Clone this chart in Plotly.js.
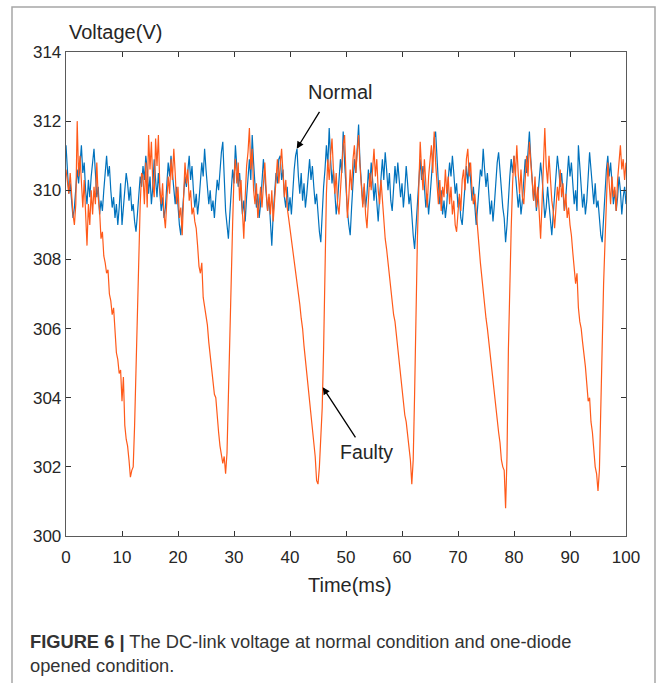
<!DOCTYPE html>
<html>
<head>
<meta charset="utf-8">
<script src="https://cdn.plot.ly/plotly-3.0.1.min.js"></script>
<style>
html,body{margin:0;padding:0;background:#fff;}
#chart{width:663px;height:683px;}
</style>
</head>
<body>
<div id="chart"></div>
<script>
// Time axis step (ms) for both series
const timeStep = 0.25;
const timeMs = [];
for (let i = 0; i <= 400; i++) timeMs.push(+(i * timeStep).toFixed(2));

// Normal condition DC-link voltage (V)
const normalV = [
311.3,310.6,309.9,310.2,309.6,309.2,309.5,310.1,310.6,310.2,310.9,311.3,310.5,310.8,310.0,309.6,310.3,309.8,310.4,310.9,
311.2,310.5,309.8,310.1,309.3,309.7,309.4,310.0,310.5,311.0,310.4,310.7,310.0,309.5,309.8,309.2,309.6,309.0,309.5,310.2,
309.0,309.4,310.0,310.5,310.2,309.7,310.1,309.4,309.6,309.1,308.8,309.3,309.9,310.4,310.1,310.7,310.3,311.0,310.6,309.9,
310.4,309.6,310.1,310.9,310.3,309.8,310.5,310.0,309.4,309.8,309.2,309.5,310.2,310.8,310.4,311.0,310.5,310.0,309.6,310.1,
309.5,309.0,308.7,309.3,309.9,310.4,310.1,310.6,311.0,310.3,310.7,310.0,309.5,309.9,309.3,309.7,310.2,310.8,310.4,311.2,
310.6,310.1,309.6,310.0,309.4,309.7,309.2,309.8,310.3,310.0,310.7,311.1,311.4,310.5,309.4,309.0,308.6,309.3,310.0,310.6,
310.2,311.3,310.7,310.1,310.5,309.8,309.3,309.7,309.1,309.8,310.4,310.9,310.3,311.6,310.8,310.2,309.5,309.9,309.2,309.6,
310.3,310.9,310.4,310.0,309.4,309.8,309.0,308.4,309.3,309.9,310.5,310.2,310.9,311.0,310.3,310.6,309.8,309.5,310.1,309.4,
309.8,309.3,310.0,310.6,311.0,311.2,310.4,309.9,310.5,309.7,310.2,309.5,309.9,310.4,310.9,310.3,310.7,310.1,309.6,309.9,
309.2,308.8,308.5,309.4,310.1,310.6,311.3,310.7,311.8,310.9,310.2,310.6,309.8,309.3,309.7,310.4,310.9,310.5,311.7,310.8,
310.0,309.4,309.0,308.7,309.5,310.3,310.9,310.5,311.4,311.9,310.8,310.2,309.6,310.1,309.5,309.9,310.6,310.1,310.8,310.3,
309.7,310.2,309.6,309.1,309.8,310.4,310.9,310.3,311.1,310.6,310.0,310.5,309.7,309.4,310.1,310.7,310.2,310.8,310.3,309.8,
310.2,309.5,310.0,310.7,310.2,309.6,309.9,309.2,308.7,308.3,309.0,309.8,310.4,310.9,310.3,310.7,310.1,309.5,309.9,309.3,
309.8,310.4,310.9,311.5,311.7,310.8,310.2,309.6,310.0,309.3,309.7,309.2,309.6,310.3,310.8,310.4,311.0,310.5,309.9,310.2,
309.5,309.8,309.2,309.0,309.6,310.2,310.7,310.2,310.8,310.3,309.7,310.1,309.4,309.0,309.5,310.1,310.6,310.4,311.2,310.6,
310.1,310.5,309.8,309.3,309.7,309.1,309.6,310.3,310.8,311.1,310.5,310.0,309.5,309.2,308.5,309.0,309.8,310.4,310.9,310.5,
311.0,310.4,310.0,309.5,309.9,309.3,309.7,310.4,310.9,310.5,311.2,311.7,310.9,310.2,309.7,310.1,309.4,309.8,310.3,310.8,
310.4,309.7,309.2,309.5,310.1,309.6,309.1,308.7,309.3,309.8,310.4,311.0,310.6,310.1,310.5,309.9,309.4,309.8,310.5,311.0,
310.4,310.8,310.2,309.6,310.0,309.4,311.3,310.6,310.0,309.5,309.9,309.3,309.7,310.4,311.1,310.6,310.0,309.6,310.2,309.5,
309.7,309.1,308.7,308.5,309.3,310.0,310.6,311.0,310.4,310.8,310.2,309.6,310.0,309.4,309.8,310.4,310.0,309.3,309.8,310.1,309.6
];

// One-diode opened (faulty) DC-link voltage (V)
const faultyV = [
310.6,310.2,309.9,310.5,309.7,309.3,309.0,309.6,312.0,310.4,311.0,310.1,309.5,310.3,309.2,308.4,309.6,309.0,310.0,309.3,
310.1,309.6,310.8,309.8,309.4,308.6,308.8,308.1,307.9,307.6,307.7,307.0,306.8,306.4,306.6,305.9,305.3,305.1,304.7,304.8,
303.9,304.6,303.2,302.8,302.6,302.2,301.7,301.9,302.0,303.2,305.0,306.9,308.5,309.6,310.5,310.4,309.6,310.8,309.5,311.6,
310.6,311.4,310.2,309.8,311.5,310.7,311.6,310.1,309.6,310.2,309.3,308.9,309.7,310.4,309.9,310.9,310.3,311.2,310.5,309.6,
310.1,309.2,309.5,308.7,309.8,310.8,310.2,310.6,309.7,310.0,309.3,309.5,309.1,308.9,308.4,307.8,307.6,307.9,306.9,306.6,
306.3,306.1,305.6,305.2,305.0,304.6,304.1,304.0,303.4,303.0,302.6,302.4,302.1,302.3,301.8,302.4,304.3,306.0,307.4,309.0,
310.4,310.9,310.2,310.8,309.7,310.3,309.4,308.6,309.8,310.7,311.1,311.8,310.6,311.2,310.0,309.6,310.2,309.2,309.6,310.1,
309.5,310.3,310.8,310.0,309.4,309.9,309.3,310.0,309.1,309.7,310.4,310.9,310.2,310.7,311.2,310.5,309.8,310.3,309.5,309.2,
308.9,308.6,308.3,307.9,307.6,307.3,307.1,306.7,306.3,306.0,305.5,305.1,304.8,304.3,303.8,303.5,303.0,302.8,302.3,301.6,
301.5,302.0,302.8,303.7,305.4,308.2,309.9,310.9,310.3,311.0,311.5,310.6,309.9,310.5,309.6,309.3,310.0,310.8,311.3,311.6,
310.4,309.2,309.8,310.6,310.0,310.9,311.3,310.5,311.1,311.6,310.7,310.1,309.5,310.2,309.3,308.9,309.7,310.5,310.0,310.8,
311.2,310.4,310.9,310.0,309.6,310.3,309.7,309.1,308.6,308.3,307.9,307.7,307.3,306.8,306.4,306.2,305.8,305.5,305.0,304.6,
304.3,303.9,303.5,303.3,302.9,302.7,302.2,301.5,302.2,304.1,306.8,308.6,310.1,311.4,310.6,310.0,310.9,310.2,309.5,310.4,
310.9,311.3,310.5,311.7,310.8,310.2,309.6,310.3,309.4,310.1,309.8,310.6,309.9,310.4,309.6,310.1,309.3,309.7,309.0,308.8,
309.4,309.9,309.4,310.3,310.6,310.0,310.9,311.2,310.4,310.8,310.0,309.6,309.9,309.3,308.9,308.4,307.9,307.5,307.0,306.5,
306.3,306.0,305.6,305.3,304.8,304.4,304.2,303.7,303.3,303.0,302.7,302.2,302.0,301.9,300.8,302.3,305.4,307.4,308.9,310.2,
311.0,310.4,311.3,310.5,309.9,310.6,309.8,309.6,310.5,311.0,310.4,311.4,310.8,310.2,309.7,310.4,309.5,310.1,309.1,308.6,
309.6,310.5,311.8,310.7,310.2,311.0,310.3,309.7,309.4,308.9,309.5,310.1,309.7,310.6,309.8,310.2,309.4,309.9,309.2,309.5,
309.0,308.7,308.2,307.8,307.3,307.6,306.6,306.2,306.0,305.6,305.3,304.9,304.4,303.9,304.0,303.3,303.0,302.5,302.0,301.8,
301.3,301.9,303.8,305.9,307.3,308.5,309.8,310.8,310.2,309.6,310.4,309.8,310.1,309.4,310.3,310.9,311.3,310.6,310.9,310.3,310.8
];

const xTickVals = [0,10,20,30,40,50,60,70,80,90,100];
const yTickVals = [300,302,304,306,308,310,312,314];

const traces = [
  {x: timeMs, y: normalV, type: 'scatter', mode: 'lines', name: 'Normal',
   line: {color: '#0072BD', width: 1.2}, hoverinfo: 'skip'},
  {x: timeMs, y: faultyV, type: 'scatter', mode: 'lines', name: 'Faulty',
   line: {color: '#FF5A1A', width: 1.2}, hoverinfo: 'skip'}
];

const fnt = 'Liberation Sans, Arial, Helvetica, sans-serif';
const axisCommon = {
  showgrid: false, zeroline: false, showline: true, linecolor: '#5a5a5a', linewidth: 1.3,
  mirror: 'ticks', ticks: 'inside', ticklen: 5, tickwidth: 1, tickcolor: '#333',
  tickfont: {family: fnt, size: 17, color: '#262626'}
};

const layout = {
  width: 663, height: 683,
  margin: {l: 66, r: 37, t: 52, b: 147},
  paper_bgcolor: '#fff', plot_bgcolor: '#fff',
  showlegend: false,
  xaxis: Object.assign({}, axisCommon, {range: [0, 100], tickvals: xTickVals, ticktext: xTickVals.map(String), ticklabelstandoff: 5}),
  yaxis: Object.assign({}, axisCommon, {range: [300, 314], tickvals: yTickVals, ticktext: yTickVals.map(String)}),
  shapes: [
    {type: 'rect', xref: 'paper', yref: 'paper', x0: (12-66)/560, x1: (655-66)/560,
     y0: (536-700)/484, y1: (536-7)/484, line: {color: '#a6a6a6', width: 1.5}, fillcolor: 'rgba(0,0,0,0)', layer: 'below'}
  ],
  annotations: [
    {xref: 'paper', yref: 'paper', x: (67-66)/560, y: (536-32)/484, xanchor: 'left', yanchor: 'middle',
     text: 'Voltage(V)', showarrow: false, font: {family: fnt, size: 20, color: '#262626'}},
    {xref: 'paper', yref: 'paper', x: (350-66)/560, y: (536-585)/484, xanchor: 'center', yanchor: 'middle',
     text: 'Time(ms)', showarrow: false, font: {family: fnt, size: 20, color: '#262626'}},
    {xref: 'x', yref: 'y', x: (340-66)/5.6, y: 300 + (536-92)/34.57, xanchor: 'center', yanchor: 'middle',
     text: 'Normal', showarrow: false, font: {family: fnt, size: 20, color: '#262626'}},
    {xref: 'x', yref: 'y', x: 41.2, y: 311.2, text: ' ', showarrow: true, arrowhead: 2, arrowsize: 1.1,
     arrowwidth: 1.3, arrowcolor: '#000', ax: 24, ay: -39, font: {size: 1}},
    {xref: 'x', yref: 'y', x: (366-66)/5.6, y: 300 + (536-452)/34.57, xanchor: 'center', yanchor: 'middle',
     text: 'Faulty', showarrow: false, font: {family: fnt, size: 19.5, color: '#262626'}},
    {xref: 'x', yref: 'y', x: 45.85, y: 304.3, text: ' ', showarrow: true, arrowhead: 2, arrowsize: 1.1,
     arrowwidth: 1.3, arrowcolor: '#000', ax: 34, ay: 52, font: {size: 1}},
    {xref: 'paper', yref: 'paper', x: (28-66)/560, y: (536-641)/484, xanchor: 'left', yanchor: 'middle',
     text: '<b>FIGURE 6 |</b> The DC-link voltage at normal condition and one-diode', showarrow: false,
     font: {family: fnt, size: 18.3, color: '#333'}},
    {xref: 'paper', yref: 'paper', x: (28-66)/560, y: (536-665)/484, xanchor: 'left', yanchor: 'middle',
     text: 'opened condition.', showarrow: false, font: {family: fnt, size: 18.3, color: '#333'}}
  ]
};

Plotly.newPlot('chart', traces, layout, {displayModeBar: false, staticPlot: true});
</script>
</body>
</html>
